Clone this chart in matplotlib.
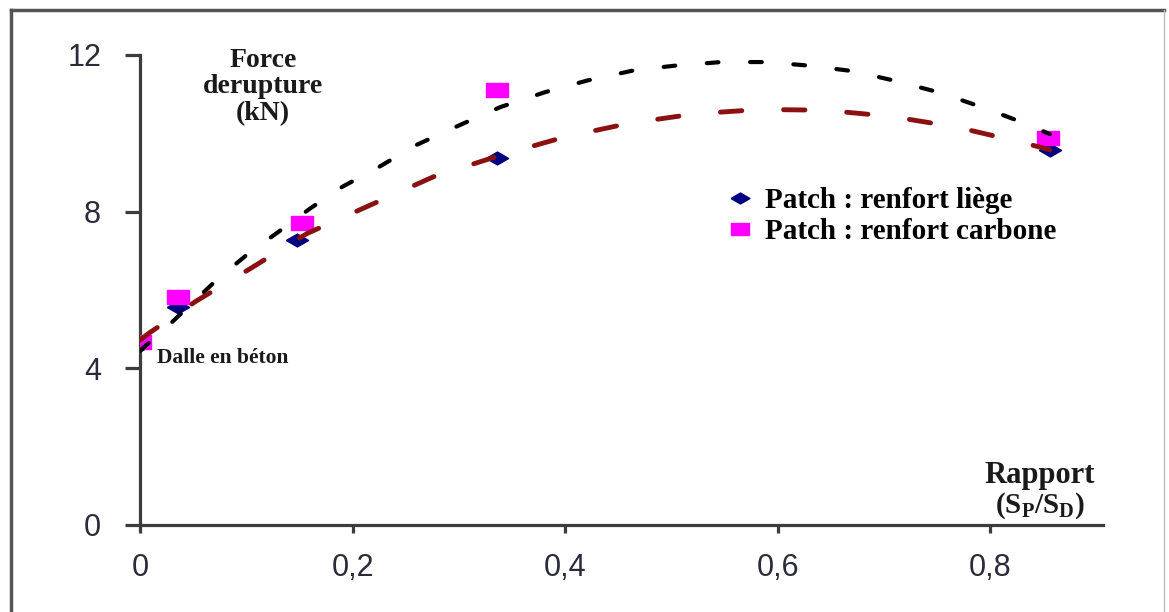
import matplotlib
matplotlib.use("Agg")
from matplotlib import pyplot as plt
from matplotlib.lines import Line2D
import numpy as np

# measured points
liege_x = [0, 0.036, 0.148, 0.336, 0.856]
liege_y = [4.6, 5.56, 7.27, 9.36, 9.57]
carbone_x = [0, 0.036, 0.152, 0.336, 0.854]
carbone_y = [4.67, 5.82, 7.70, 11.1, 9.87]

# trend curves
trend_carbone_x = [0, 0.027, 0.075, 0.102, 0.130, 0.160, 0.190, 0.226, 0.259, 0.30, 0.339, 0.381,
                   0.421, 0.465, 0.504, 0.547, 0.588, 0.629, 0.670, 0.709, 0.751, 0.792, 0.833, 0.856]
trend_carbone_y = [4.45, 5.10, 6.33, 6.93, 7.48, 8.08, 8.63, 9.16, 9.69, 10.20, 10.67, 11.05,
                   11.35, 11.61, 11.73, 11.82, 11.82, 11.73, 11.59, 11.35, 11.05, 10.67, 10.25, 9.98]
trend_liege_x = [0, 0.008, 0.053, 0.104, 0.157, 0.216, 0.276, 0.339, 0.40, 0.461, 0.523, 0.584,
                 0.645, 0.707, 0.768, 0.828, 0.856]
trend_liege_y = [4.72, 4.89, 5.72, 6.55, 7.44, 8.16, 8.89, 9.44, 9.91, 10.26, 10.50, 10.61,
                 10.59, 10.43, 10.16, 9.78, 9.58]

x_ticks = [0, 0.2, 0.4, 0.6, 0.8]
x_labels = ["0", "0,2", "0,4", "0,6", "0,8"]
y_ticks = [0, 4, 8, 12]
y_labels = ["0", "4", "8", "12"]

plt.rcParams['mathtext.fontset'] = 'custom'
plt.rcParams['mathtext.rm'] = 'Liberation Serif:bold'
plt.rcParams['mathtext.it'] = 'Liberation Serif:bold'

W, H = 1169, 612
fig = plt.figure(figsize=(W / 100, H / 100), dpi=100)
ax = fig.add_axes([140 / W, 1 - 525 / H, (1103 - 140) / W, (525 - 55) / H])

# custom stretched markers (the source image is stretched horizontally)
diamond = [(-1, 0), (0, 0.58), (1, 0), (0, -0.58), (-1, 0)]
rect = [(-1, -0.65), (1, -0.65), (1, 0.65), (-1, 0.65), (-1, -0.65)]

ax.plot(liege_x, liege_y, linestyle='none', marker=diamond, markersize=16,
        color='#000080', label='Patch : renfort liège', zorder=3)
ax.plot(carbone_x, carbone_y, linestyle='none', marker=rect, markersize=15.5,
        color='#ff00ff', label='Patch : renfort carbone', zorder=3)

ax.plot(trend_carbone_x, trend_carbone_y, color='black', lw=3, dashes=(2.8, 7.6),
        dash_capstyle='round', zorder=4)
ax.plot(trend_liege_x, trend_liege_y, color='#8b1111', lw=3.5, dashes=(4.4, 8.6),
        dash_capstyle='round', zorder=4)

ax.set_xlim(0, 0.906)
ax.set_ylim(0, 12)
ax.spines['top'].set_visible(False)
ax.spines['right'].set_visible(False)
for s in ['left', 'bottom']:
    ax.spines[s].set_color('#3c3c3c')
    ax.spines[s].set_linewidth(2.3)
ax.set_xticks(x_ticks)
ax.set_xticklabels(x_labels)
ax.set_yticks(y_ticks)
ax.set_yticklabels(y_labels)
ax.tick_params(axis='x', length=6, width=2.3, color='#3c3c3c', pad=14,
               labelsize=22, labelcolor='#2a2a3a')
ax.tick_params(axis='y', length=11, width=2.3, color='#3c3c3c', pad=17,
               labelsize=22, labelcolor='#2a2a3a')
for lab in ax.get_xticklabels() + ax.get_yticklabels():
    lab.set_family('Liberation Sans')

serif = dict(family='Liberation Serif', weight='bold', color='#1a1a1a')
fig.text(263 / W, 1 - 87 / H, "Force\nderupture\n(kN)", ha='center', va='center',
         fontsize=20, linespacing=1.08, **serif)
fig.text(157 / W, 1 - 358 / H, "Dalle en béton", ha='left', va='center', fontsize=15.5, **serif)
fig.text(1040 / W, 1 - 475 / H, "Rapport", ha='center', va='center', fontsize=22, **serif)
fig.text(1040 / W, 1 - 506 / H, r"(S$_\mathrm{P}$/S$_\mathrm{D}$)", ha='center', va='center',
         fontsize=21, **serif)

ax.legend(loc='center left', bbox_to_anchor=(730 / W, 1 - 216 / H), bbox_transform=fig.transFigure,
          frameon=False, prop=dict(family='Liberation Serif', weight='bold', size=21),
          handlelength=0.7, handletextpad=0.5, labelspacing=0.15, markerscale=0.85,
          borderaxespad=0, borderpad=0)

# outer frame of the pasted picture
fig.add_artist(Line2D([11 / W, 11 / W], [0, 1 - 10 / H], transform=fig.transFigure,
                      color='#555555', lw=2.5))
fig.add_artist(Line2D([11 / W, 1164 / W], [1 - 10 / H, 1 - 10 / H], transform=fig.transFigure,
                      color='#555555', lw=2.5))
fig.add_artist(Line2D([1164 / W, 1164 / W], [0, 1 - 10 / H], transform=fig.transFigure,
                      color='#bbbbbb', lw=1))

fig.savefig("out.png", dpi=100)
